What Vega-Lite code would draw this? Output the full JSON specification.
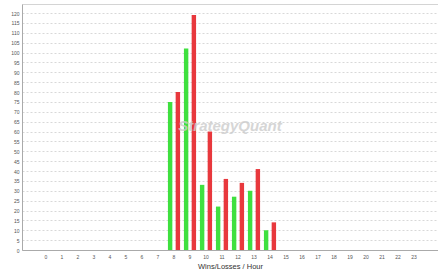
{
  "$schema": "https://vega.github.io/schema/vega-lite/v6.json",
  "width": 416,
  "height": 246,
  "autosize": {"type": "none"},
  "padding": {"left": 22, "top": 4, "right": 0, "bottom": 26},
  "background": "white",
  "config": {"view": {"stroke": "#d4d4d4", "strokeWidth": 1}, "font": "Liberation Sans"},
  "layer": [
    {
      "data": {"values": [
        {"hour": 8, "type": "Wins", "count": 75},
        {"hour": 8, "type": "Losses", "count": 80},
        {"hour": 9, "type": "Wins", "count": 102},
        {"hour": 9, "type": "Losses", "count": 119},
        {"hour": 10, "type": "Wins", "count": 33},
        {"hour": 10, "type": "Losses", "count": 60},
        {"hour": 11, "type": "Wins", "count": 22},
        {"hour": 11, "type": "Losses", "count": 36},
        {"hour": 12, "type": "Wins", "count": 27},
        {"hour": 12, "type": "Losses", "count": 34},
        {"hour": 13, "type": "Wins", "count": 30},
        {"hour": 13, "type": "Losses", "count": 41},
        {"hour": 14, "type": "Wins", "count": 10},
        {"hour": 14, "type": "Losses", "count": 14}
      ]},
      "mark": {"type": "bar"},
      "encoding": {
        "x": {
          "field": "hour", "type": "ordinal",
          "scale": {"domain": [0,1,2,3,4,5,6,7,8,9,10,11,12,13,14,15,16,17,18,19,20,21,22,23], "paddingInner": 0, "paddingOuter": 1.21},
          "axis": {"title": "Wins/Losses / Hour", "titleFontSize": 7.5, "titleFontWeight": "normal", "titleColor": "#333", "titlePadding": 3, "labelFontSize": 5, "labelColor": "#555", "labelAngle": 0, "labelPadding": 4, "labelOverlap": false, "ticks": false, "domainColor": "#aaa", "grid": false}
        },
        "xOffset": {"field": "type", "type": "nominal", "scale": {"domain": ["Wins", "Losses"], "paddingInner": 0.43, "paddingOuter": 0.25}},
        "y": {
          "field": "count", "type": "quantitative",
          "scale": {"domain": [0, 124.6], "nice": false, "zero": true},
          "axis": {"title": null, "values": [0,5,10,15,20,25,30,35,40,45,50,55,60,65,70,75,80,85,90,95,100,105,110,115,120], "labelFontSize": 5, "labelColor": "#555", "labelPadding": 3, "labelOverlap": false, "labelBound": false, "labelFlush": false, "ticks": false, "grid": true, "gridDash": [2, 2], "gridColor": "#d8d8d8", "domainColor": "#aaa"}
        },
        "color": {"field": "type", "type": "nominal", "scale": {"domain": ["Wins", "Losses"], "range": ["#3fe03f", "#e8383d"]}, "legend": null}
      }
    },
    {
      "data": {"values": [{"t": "StrategyQuant"}]},
      "mark": {"type": "text", "fontStyle": "italic", "fontWeight": "bold", "fontSize": 15, "color": "#cccccc", "opacity": 0.8, "align": "center", "baseline": "middle"},
      "encoding": {
        "text": {"field": "t"},
        "x": {"datum": 11, "type": "ordinal", "bandPosition": 1,
          "scale": {"domain": [0,1,2,3,4,5,6,7,8,9,10,11,12,13,14,15,16,17,18,19,20,21,22,23], "paddingInner": 0, "paddingOuter": 1.21},
          "axis": {"title": "Wins/Losses / Hour", "titleFontSize": 7.5, "titleFontWeight": "normal", "titleColor": "#333", "titlePadding": 3, "labelFontSize": 5, "labelColor": "#555", "labelAngle": 0, "labelPadding": 4, "labelOverlap": false, "ticks": false, "domainColor": "#aaa", "grid": false}
        },
        "y": {"datum": 62.8, "type": "quantitative",
          "scale": {"domain": [0, 124.6], "nice": false, "zero": true},
          "axis": {"title": null, "values": [0,5,10,15,20,25,30,35,40,45,50,55,60,65,70,75,80,85,90,95,100,105,110,115,120], "labelFontSize": 5, "labelColor": "#555", "labelPadding": 3, "labelOverlap": false, "labelBound": false, "labelFlush": false, "ticks": false, "grid": true, "gridDash": [2, 2], "gridColor": "#d8d8d8", "domainColor": "#aaa"}
        }
      }
    }
  ]
}
